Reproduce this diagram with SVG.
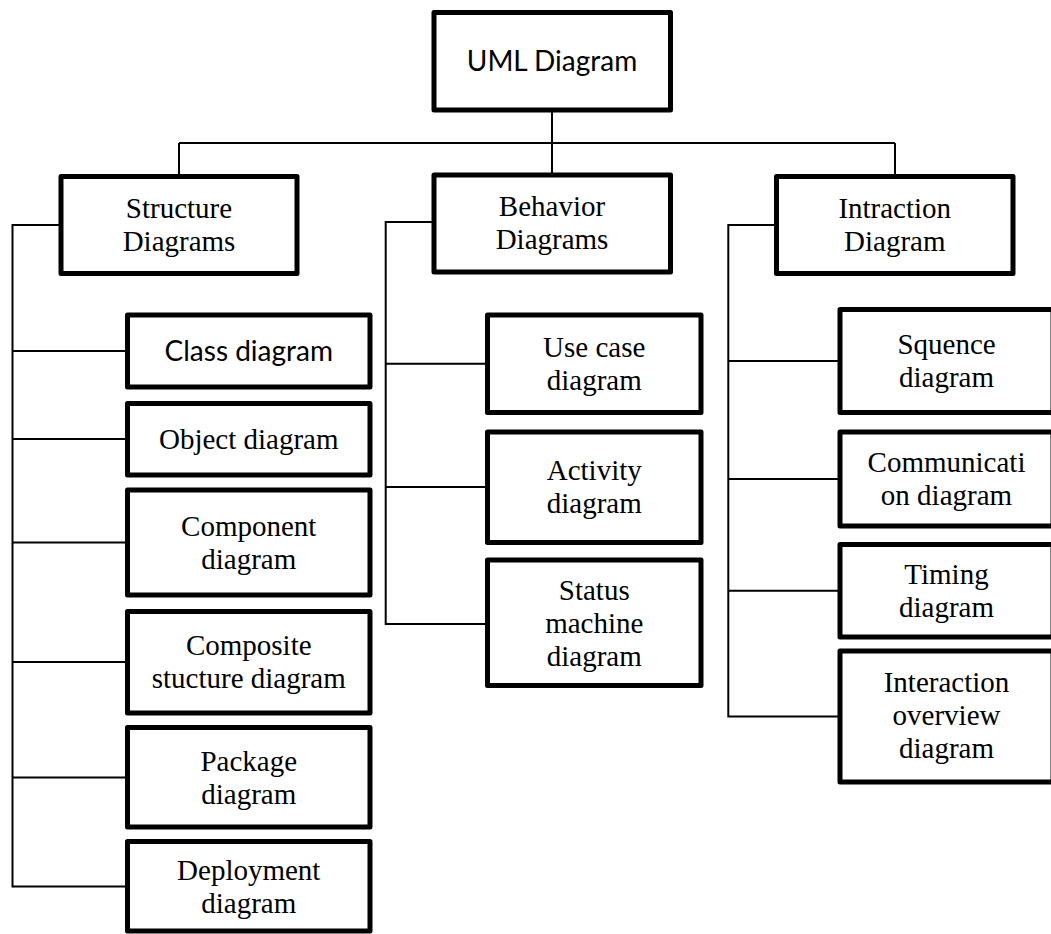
<svg xmlns="http://www.w3.org/2000/svg" width="1051" height="934" viewBox="0 0 1051 934">
<style>
.box{fill:#fff;stroke:#000;stroke-width:5;stroke-linejoin:round}
.ln{fill:none;stroke:#000;stroke-width:2}
text{fill:#000;text-anchor:middle}
.t{font-family:"Liberation Serif","Times New Roman",serif;font-size:29px}
.s{font-family:Lato,"Open Sans",sans-serif;font-size:28px}
</style>
<rect width="1051" height="934" fill="#fff"/>
<g id="connectors" class="ln">
<path d="M552 110 V175.5"/>
<path d="M179 143 H895"/>
<path d="M179 143 V175.5 M895 143 V175.5"/>
<path d="M61 225 H12.5 V886.5 H127.5"/>
<path d="M12.5 351 H127.5 M12.5 439 H127.5 M12.5 542.5 H127.5 M12.5 662 H127.5 M12.5 777.5 H127.5"/>
<path d="M434 222 H385.7 V624 H487.5"/>
<path d="M385.7 363.7 H487.5 M385.7 487 H487.5"/>
<path d="M776.5 225 H728.3 V716.5 H840"/>
<path d="M728.3 361 H840 M728.3 479 H840 M728.3 590.7 H840"/>
</g>
<g id="uml">
<rect class="box" x="434" y="12.5" width="236.5" height="97.5"/>
<text class="s" x="552" y="71">UML Diagram</text>
</g>
<g id="structure">
<rect class="box" x="61" y="176.5" width="236" height="97"/>
<text class="t" x="179" y="218">Structure</text>
<text class="t" x="179" y="251">Diagrams</text>
</g>
<g id="behavior">
<rect class="box" x="434" y="175" width="236.5" height="97"/>
<text class="t" x="552" y="216">Behavior</text>
<text class="t" x="552" y="249">Diagrams</text>
</g>
<g id="interaction">
<rect class="box" x="776.5" y="176.5" width="236.5" height="97"/>
<text class="t" x="894.75" y="218">Intraction</text>
<text class="t" x="894.75" y="251">Diagram</text>
</g>
<g id="class">
<rect class="box" x="127.5" y="315" width="242.5" height="72"/>
<text class="s" x="248.75" y="361">Class diagram</text>
</g>
<g id="object">
<rect class="box" x="127.5" y="403.5" width="242.5" height="71.5"/>
<text class="t" x="248.75" y="449">Object diagram</text>
</g>
<g id="component">
<rect class="box" x="127.5" y="490" width="242.5" height="105"/>
<text class="t" x="248.75" y="535.5">Component</text>
<text class="t" x="248.75" y="568.5">diagram</text>
</g>
<g id="composite">
<rect class="box" x="127.5" y="611.5" width="242.5" height="101.5"/>
<text class="t" x="248.75" y="655">Composite</text>
<text class="t" x="248.75" y="688">stucture diagram</text>
</g>
<g id="package">
<rect class="box" x="127.5" y="727.5" width="242.5" height="99.5"/>
<text class="t" x="248.75" y="770.5">Package</text>
<text class="t" x="248.75" y="803.5">diagram</text>
</g>
<g id="deployment">
<rect class="box" x="127.5" y="841.5" width="242.5" height="89.5"/>
<text class="t" x="248.75" y="879.5">Deployment</text>
<text class="t" x="248.75" y="912.5">diagram</text>
</g>
<g id="usecase">
<rect class="box" x="487.5" y="315" width="213.5" height="97.5"/>
<text class="t" x="594.25" y="357">Use case</text>
<text class="t" x="594.25" y="390">diagram</text>
</g>
<g id="activity">
<rect class="box" x="487.5" y="432" width="213.5" height="110.5"/>
<text class="t" x="594.25" y="480">Activity</text>
<text class="t" x="594.25" y="513">diagram</text>
</g>
<g id="status">
<rect class="box" x="487.5" y="560" width="213.5" height="125.5"/>
<text class="t" x="594.25" y="600">Status</text>
<text class="t" x="594.25" y="633">machine</text>
<text class="t" x="594.25" y="666">diagram</text>
</g>
<g id="sequence">
<rect class="box" x="840" y="309.5" width="213" height="103"/>
<text class="t" x="946.5" y="354">Squence</text>
<text class="t" x="946.5" y="387">diagram</text>
</g>
<g id="communication">
<rect class="box" x="840" y="432" width="213" height="94"/>
<text class="t" x="946.5" y="472">Communicati</text>
<text class="t" x="946.5" y="505">on diagram</text>
</g>
<g id="timing">
<rect class="box" x="840" y="544.5" width="213" height="92.5"/>
<text class="t" x="946.5" y="584">Timing</text>
<text class="t" x="946.5" y="617">diagram</text>
</g>
<g id="overview">
<rect class="box" x="840" y="651" width="213" height="131"/>
<text class="t" x="946.5" y="692">Interaction</text>
<text class="t" x="946.5" y="725">overview</text>
<text class="t" x="946.5" y="758">diagram</text>
</g>
</svg>
